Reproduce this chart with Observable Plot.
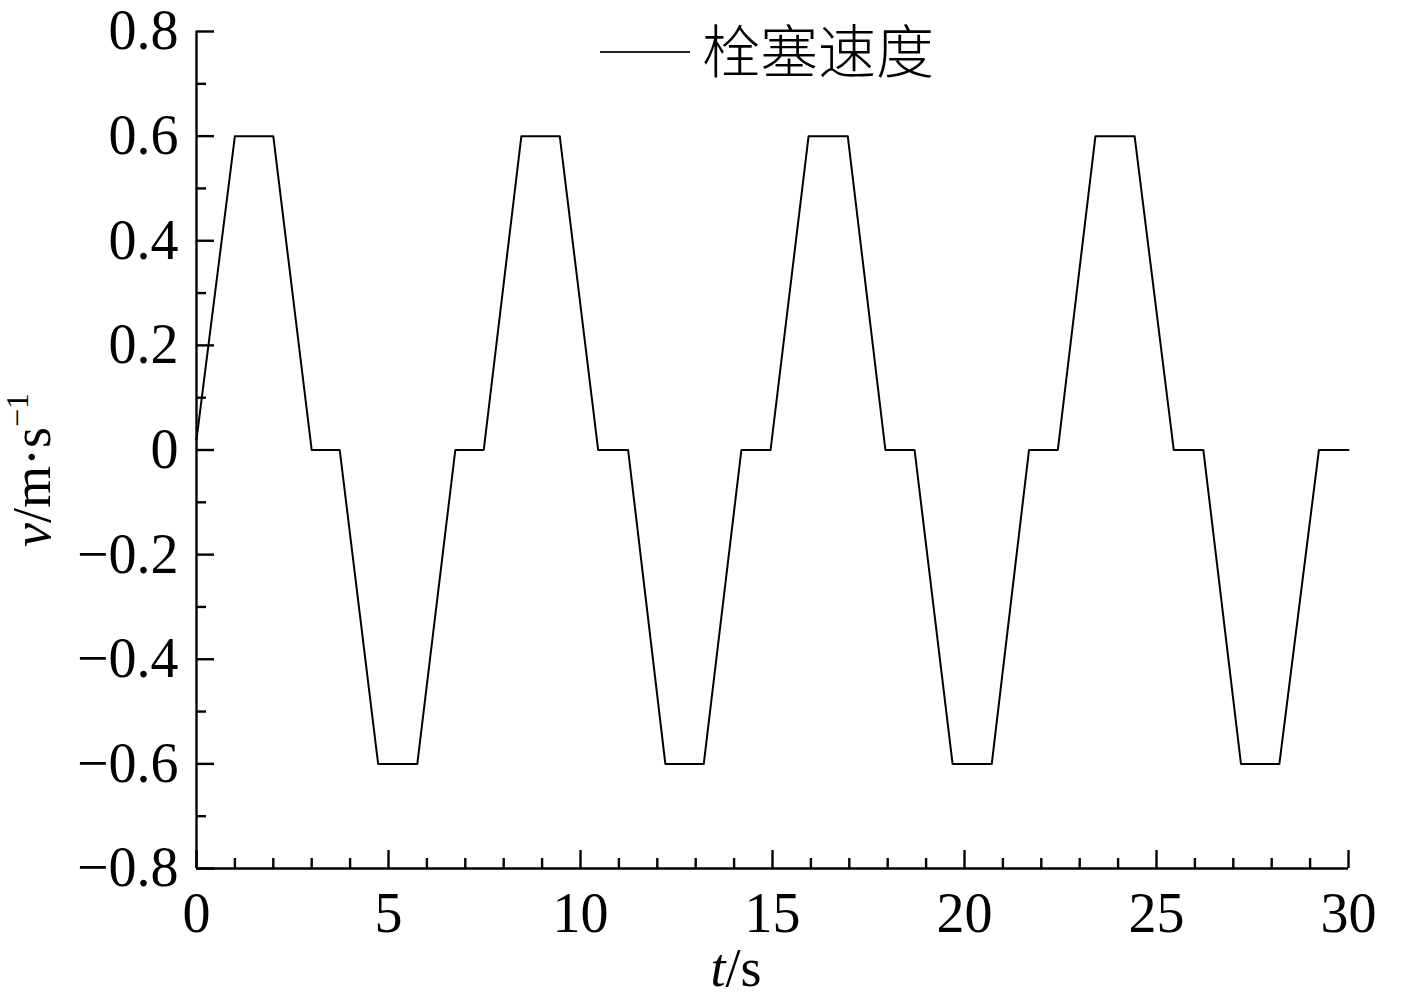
<!DOCTYPE html>
<html>
<head>
<meta charset="utf-8">
<script src="https://cdn.jsdelivr.net/npm/d3@7"></script>
<script src="https://cdn.jsdelivr.net/npm/@observablehq/plot@0.6"></script>
<style>
  html, body { margin: 0; padding: 0; background: #fff; }
  #chart svg { display: block; }
</style>
</head>
<body>
<div id="chart"></div>
<script>
// Breakpoints of the plug velocity curve
const timeS = [0, 1.0, 2.0, 3.0, 3.73, 4.73, 5.75, 6.74, 7.48, 8.46, 9.46, 10.46, 11.24, 12.21, 13.21, 14.19, 14.95, 15.94, 16.96, 17.94, 18.7, 19.69, 20.71, 21.68, 22.43, 23.41, 24.43, 25.45, 26.22, 27.2, 28.2, 29.23, 30];
const velocity = [0.02, 0.6, 0.6, 0, 0, -0.6, -0.6, 0, 0, 0.6, 0.6, 0, 0, -0.6, -0.6, 0, 0, 0.6, 0.6, 0, 0, -0.6, -0.6, 0, 0, 0.6, 0.6, 0, 0, -0.6, -0.6, 0, 0];
const xMajorTicks = [0, 5, 10, 15, 20, 25, 30];
const xMinorTicks = [1, 2, 3, 4, 6, 7, 8, 9, 11, 12, 13, 14, 16, 17, 18, 19, 21, 22, 23, 24, 26, 27, 28, 29];
const yMajorTicks = [-0.8, -0.6, -0.4, -0.2, 0, 0.2, 0.4, 0.6, 0.8];
const yMinorTicks = [-0.7, -0.5, -0.3, -0.1, 0.1, 0.3, 0.5, 0.7];
const seriesName = "栓塞速度";

const data = timeS.map((t, i) => ({t, v: velocity[i]}));
const fmtY = d => d === 0 ? "0" : (d < 0 ? "\u2212" : "") + Math.abs(d).toFixed(1);

const chart = Plot.plot({
  width: 1417,
  height: 997,
  marginLeft: 196,
  marginRight: 69,
  marginTop: 31,
  marginBottom: 129,
  style: {fontFamily: "'Liberation Serif', 'Times New Roman', serif", fontSize: "56px", background: "#fff", color: "#000"},
  x: {domain: [0, 30]},
  y: {domain: [-0.8, 0.8]},
  marks: [
    Plot.axisX(xMajorTicks, {tickSize: -18, tickPadding: 42, tickFormat: d => String(d), strokeWidth: 2.4, label: null, fontSize: 56}),
    Plot.axisX(xMinorTicks, {tickSize: -10, tickFormat: () => "", strokeWidth: 2.4, label: null}),
    Plot.axisY(yMajorTicks, {tickSize: -18, tickPadding: 36, tickFormat: fmtY, strokeWidth: 2.4, label: null, fontSize: 56}),
    Plot.axisY(yMinorTicks, {tickSize: -10, tickFormat: () => "", strokeWidth: 2.4, label: null}),
    Plot.ruleY([-0.8], {strokeWidth: 2.4}),
    Plot.ruleX([0], {strokeWidth: 2.4}),
    Plot.line(data, {x: "t", y: "v", stroke: "#000", strokeWidth: 2})
  ]
});

document.getElementById("chart").appendChild(chart);

const svg = d3.select(chart);
const serif = "'Liberation Serif', 'Times New Roman', serif";

// x axis label: t/s
const xl = svg.append("text")
  .attr("x", 736).attr("y", 986)
  .attr("text-anchor", "middle")
  .attr("font-family", serif).attr("font-size", 54).attr("fill", "#000");
xl.append("tspan").attr("font-style", "italic").text("t");
xl.append("tspan").text("/s");

// y axis label: v/m·s^-1
const yl = svg.append("text")
  .attr("transform", "translate(50,470) rotate(-90)")
  .attr("text-anchor", "middle")
  .attr("font-family", serif).attr("font-size", 54).attr("fill", "#000");
yl.append("tspan").attr("font-style", "italic").text("v");
yl.append("tspan").text("/m·s");
yl.append("tspan").attr("font-size", 32).attr("dy", -22).text("\u22121");

// legend
svg.append("line")
  .attr("x1", 600).attr("x2", 690).attr("y1", 52).attr("y2", 52)
  .attr("stroke", "#222").attr("stroke-width", 1.8);
svg.append("text")
  .attr("x", 702).attr("y", 52)
  .attr("dy", "0.36em")
  .attr("text-anchor", "start")
  .attr("font-family", "'Noto Sans CJK SC', sans-serif").attr("font-size", 58).attr("font-weight", 300)
  .attr("fill", "#000")
  .text(seriesName);
</script>
</body>
</html>
